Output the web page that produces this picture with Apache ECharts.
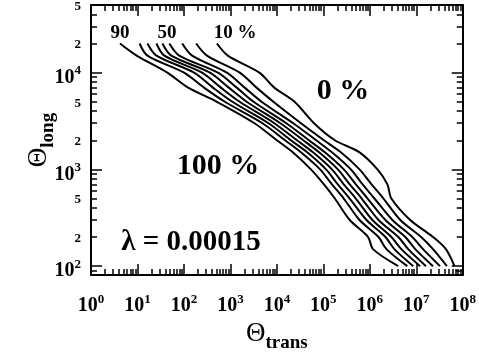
<!DOCTYPE html>
<html>
<head>
<meta charset="utf-8">
<script src="https://cdn.jsdelivr.net/npm/echarts@6/dist/echarts.min.js"></script>
<style>html,body{margin:0;padding:0;background:#fff;}#c{width:479px;height:358px;}</style>
</head>
<body>
<div id="c"></div>
<script>
// Contour levels (percent) and the Θ_long values at which each contour was read
const PCT = ['90', '80', '70', '60', '50', '40', '30', '20', '10'];
const THETA_LONG = [20000, 15000, 10000, 7000, 5000, 3000, 2000, 1500, 1000, 700, 500, 300, 200, 150, 100];
// Θ_trans of each contour at the Θ_long values above
const TRANS_90 = [4.2, 9.6, 44, 123, 512, 3300, 1.0e4, 2.2e4, 5.4e4, 1.03e5, 1.77e5, 3.7e5, 9.2e5, 1.17e6, 4.1e6];
const TRANS_80 = [11.1, 16.4, 101, 270, 760, 4900, 1.5e4, 3.3e4, 8.5e4, 1.53e5, 2.75e5, 6.0e5, 1.54e6, 2.28e6, 6.4e6];
const TRANS_70 = [16.4, 25.6, 165, 421, 1100, 6600, 2.0e4, 4.5e4, 1.14e5, 2.05e5, 3.7e5, 8.5e5, 2.17e6, 3.37e6, 8.6e6];
const TRANS_60 = [25.6, 37.9, 245, 623, 1585, 8800, 2.7e4, 6.0e4, 1.53e5, 2.75e5, 5.0e5, 1.14e6, 2.91e6, 4.76e6, 1.21e7];
const TRANS_50 = [34.4, 53.5, 363, 923, 2235, 1.19e4, 3.7e4, 8.1e4, 2.05e5, 3.7e5, 6.7e5, 1.54e6, 4.1e6, 6.7e6, 1.62e7];
const TRANS_40 = [48.5, 79.2, 538, 1368, 3154, 1.6e4, 4.9e4, 1.08e5, 2.75e5, 5.0e5, 8.95e5, 2.17e6, 5.8e6, 9.5e6, 2.29e7];
const TRANS_30 = [91.8, 150, 837, 2026, 4670, 2.25e4, 7.0e4, 1.53e5, 3.9e5, 7.0e5, 1.26e6, 3.06e6, 8.2e6, 1.4e7, 3.23e7];
const TRANS_20 = [183, 313, 1585, 3653, 8421, 3.3e4, 1.03e5, 2.38e5, 6.0e5, 1.09e6, 1.97e6, 4.53e6, 1.27e7, 2.29e7, 4.56e7];
const TRANS_10 = [512, 880, 4200, 8800, 2.4e4, 6.3e4, 1.77e5, 6.0e5, 1.46e6, 2.39e6, 2.91e6, 7.4e6, 2.29e7, 4.34e7, 6.65e7];
const CURVES = [TRANS_90, TRANS_80, TRANS_70, TRANS_60, TRANS_50, TRANS_40, TRANS_30, TRANS_20, TRANS_10];

// Axis extents and tick labels
const X_MIN = 1, X_MAX = 1e8;
const Y_MIN = 81, Y_MAX = 50000;
const X_LABEL_EXP = [0, 1, 2, 3, 4, 5, 6, 7, 8];
const Y_LABEL_VALUES = [100, 200, 500, 1000, 2000, 5000, 10000, 20000, 50000];

const lg = Math.log10;
const FONT = 'Liberation Serif';

function minorList(lo, hi) {
  const out = [];
  for (let d = Math.floor(lo) - 1; d <= Math.ceil(hi); d++) {
    for (let k = 2; k <= 9; k++) {
      const v = d + lg(k);
      if (v >= lo - 1e-9 && v <= hi + 1e-9) out.push(v);
    }
  }
  return out;
}
const xmin = lg(X_MIN), xmax = lg(X_MAX), ymin = lg(Y_MIN), ymax = lg(Y_MAX);
const xMajor = X_LABEL_EXP.slice();
const xMinor = minorList(xmin, xmax);
const yMajor = [2, 3, 4];
const yMinor = minorList(ymin, ymax);
const yLabelVals = Y_LABEL_VALUES.map(v => lg(v));

function richLbl(topPad) {
  return {
    b: { fontFamily: FONT, fontWeight: 'bold', fontSize: 20, color: '#000', verticalAlign: 'bottom', padding: [topPad, 0, 0, 0] },
    s: { fontFamily: FONT, fontWeight: 'bold', fontSize: 13, color: '#000', verticalAlign: 'bottom', padding: [0, 0, 10, 0] },
    m: { fontFamily: FONT, fontWeight: 'bold', fontSize: 13, color: '#000', verticalAlign: 'bottom', padding: [3, 0, 0, 0] }
  };
}
function fmt(v) {
  if (Math.abs(v - Math.round(v)) < 1e-6) return '{b|10}{s|' + Math.round(v) + '}';
  const m = Math.round(Math.pow(10, v - Math.floor(v)));
  return '{m|' + m + '}';
}

const lineSt = { color: '#000', width: 2 };
function axis(dim, pos, major, opts) {
  const isX = dim === 'x';
  return Object.assign({
    type: 'value', position: pos,
    min: isX ? xmin : ymin, max: isX ? xmax : ymax,
    splitLine: { show: false },
    axisLine: { show: major, onZero: false, lineStyle: lineSt },
    axisTick: {
      show: true, inside: true, length: major ? 11 : 6,
      customValues: major ? (isX ? xMajor : yMajor) : (isX ? xMinor : yMinor),
      lineStyle: { color: '#000', width: 1.5 }
    },
    axisLabel: { show: false }
  }, opts || {});
}

const nameRich = {
  t: { fontFamily: FONT, fontSize: 27, color: '#000', verticalAlign: 'bottom', padding: [0, 0, 6, 0] },
  s: { fontFamily: FONT, fontWeight: 'bold', fontSize: 19, color: '#000', verticalAlign: 'bottom' }
};

const xAxes = [
  axis('x', 'bottom', true, {
    axisLabel: { show: true, customValues: xMajor, formatter: fmt, rich: richLbl(0), margin: 18 },
    name: '{t|Θ}{s|trans}', nameLocation: 'middle', nameGap: 45, nameMoveOverlap: false,
    nameTextStyle: { rich: nameRich }
  }),
  axis('x', 'bottom', false),
  axis('x', 'top', true),
  axis('x', 'top', false)
];
const yAxes = [
  axis('y', 'left', true, {
    axisLabel: { show: true, customValues: yLabelVals, formatter: fmt, rich: richLbl(10), margin: 10 },
    name: '{t|Θ}{s|long}', nameLocation: 'middle', nameGap: 33, nameRotate: 90, nameMoveOverlap: false,
    nameTextStyle: { rich: nameRich }
  }),
  axis('y', 'left', false),
  axis('y', 'right', true),
  axis('y', 'right', false)
];

const series = CURVES.map((arr, i) => ({
  name: PCT[i] + '%',
  type: 'line',
  xAxisIndex: 0, yAxisIndex: 0,
  showSymbol: false,
  smooth: 0.3,
  lineStyle: { color: '#000', width: 2 },
  data: arr.map((t, j) => [lg(t), lg(THETA_LONG[j])]),
  silent: true,
  animation: false
}));

function txt(x, y, text, size) {
  return { type: 'text', x: x, y: y, style: { text: text, fontFamily: FONT, fontWeight: 'bold', fontSize: size, fill: '#000', align: 'center', verticalAlign: 'middle' } };
}

const chart = echarts.init(document.getElementById('c'), null, { renderer: 'canvas' });
chart.setOption({
  animation: false,
  backgroundColor: '#fff',
  grid: { left: 91, right: 13, top: 5, bottom: 73, containLabel: false },
  xAxis: xAxes,
  yAxis: yAxes,
  series: series,
  graphic: [
    txt(120, 33, '90', 19),
    txt(167, 33, '50', 19),
    txt(235, 33, '10 %', 19),
    txt(343, 91, '0 %', 30),
    txt(218, 166, '100 %', 30),
    txt(191, 243, 'λ = 0.00015', 29)
  ]
});
</script>
</body>
</html>
